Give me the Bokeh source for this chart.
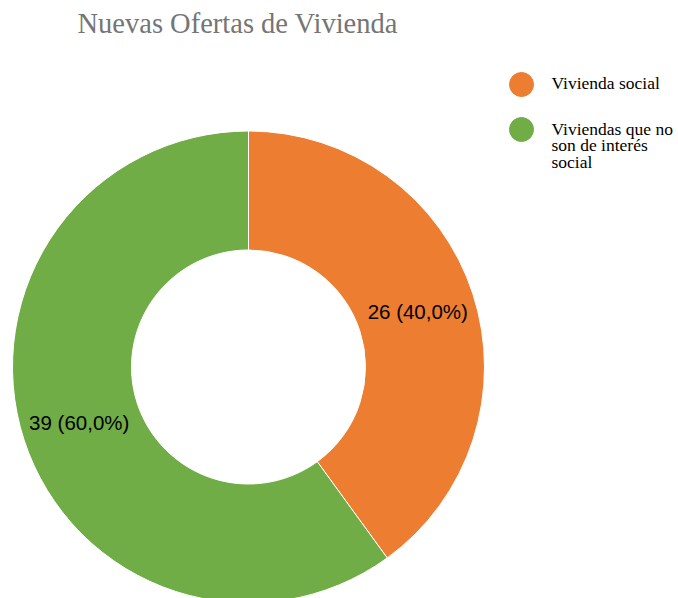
import math
from bokeh.plotting import figure
from bokeh.models import Range1d, ColumnDataSource
from bokeh.core.properties import value
from bokeh.embed import file_html
from bokeh.resources import INLINE

title_text = "Nuevas Ofertas de Vivienda"
categories = ["Vivienda social", "Viviendas que no son de interés social"]
legend_lines = [["Vivienda social"], ["Viviendas que no", "son de interés", "social"]]
counts = [26, 39]
colors = ["#ED7D31", "#70AD47"]

W, H = 678, 598
PAGE_H = 598
def Y(py):
    return PAGE_H - py

p = figure(width=W, height=H, output_backend="svg", toolbar_location=None,
           x_range=Range1d(0, W), y_range=Range1d(Y(H), Y(0)),
           min_border=0)
p.axis.visible = False
p.grid.visible = False
p.outline_line_color = None
p.background_fill_color = "white"

cx, cy = 248, Y(366.5)
R_out, R_in = 236, 117

total = sum(counts)
starts, ends, lx, ly, labels = [], [], [], [], []
cum = 0.0
for c in counts:
    f0 = cum / total
    cum += c
    f1 = cum / total
    a0 = math.pi / 2 - 2 * math.pi * f0
    a1 = math.pi / 2 - 2 * math.pi * f1
    starts.append(a0)
    ends.append(a1)
    am = (a0 + a1) / 2
    rl = 178
    lx.append(cx + rl * math.cos(am))
    ly.append(cy + rl * math.sin(am))
    labels.append(f"{c} ({c / total * 100:.1f}%)".replace(".", ","))

src = ColumnDataSource(dict(start=starts, end=ends, color=colors))
p.annular_wedge(x=cx, y=cy, inner_radius=R_in, outer_radius=R_out,
                start_angle="start", end_angle="end", direction="clock",
                fill_color="color", line_color="white", line_width=1, source=src)

p.text(x=lx, y=ly, text=labels, text_font=value("Liberation Sans"),
       text_font_size="20.5px", text_color="#000000",
       text_align="center", text_baseline="middle")

# title
p.text(x=[77], y=[Y(23)], text=[title_text], text_font=value("Liberation Serif"),
       text_font_size="28.5px", text_color="#757575",
       text_align="left", text_baseline="alphabetic")

# legend
leg_y = [84, 129]
leg_base = [82, 128]
for i, lines in enumerate(legend_lines):
    p.scatter(x=[521], y=[Y(leg_y[i])], size=24, marker="circle",
              fill_color=colors[i], line_color=colors[i])
    for j, t in enumerate(lines):
        p.text(x=[551], y=[Y(leg_base[i] + j * 16.5)], text=[t],
               text_font=value("Liberation Serif"), text_font_size="17.5px",
               text_color="#000000", text_align="left", text_baseline="alphabetic")

open("out.html", "w").write(file_html(p, INLINE))
